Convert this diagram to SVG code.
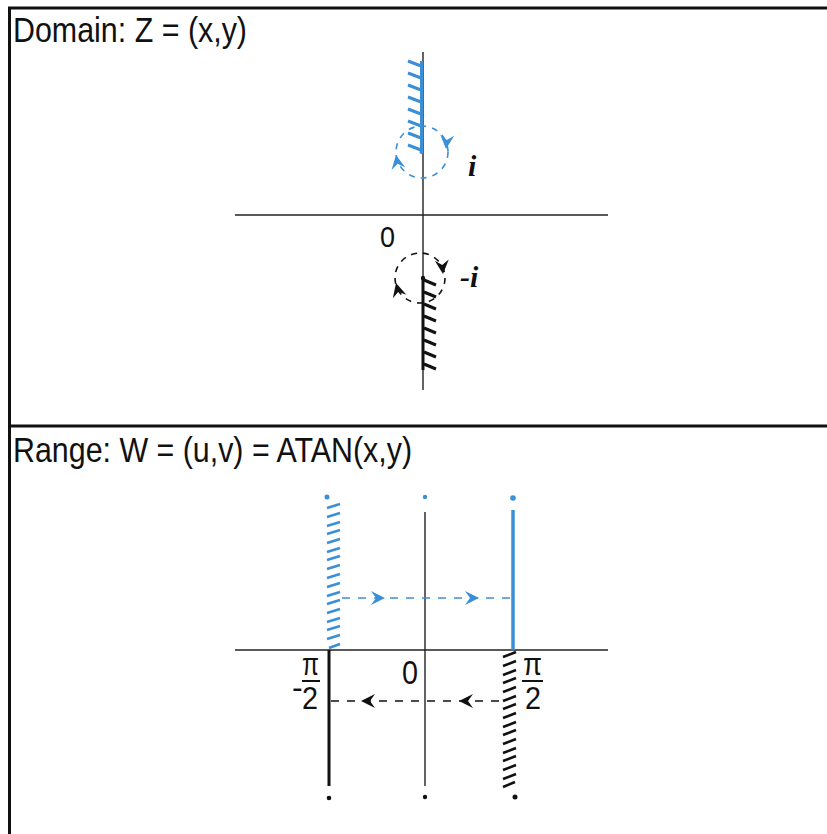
<svg xmlns="http://www.w3.org/2000/svg" width="827" height="834" viewBox="0 0 827 834">
<style>
.frame{stroke:#111;stroke-width:3;fill:none}
.axis{stroke:#222;stroke-width:1.4;fill:none}
.blue{stroke:#3b8fd6;fill:none}
.blk{stroke:#111;fill:none}
.t{font-family:"Liberation Sans",Arial,sans-serif;fill:#111}
.it{font-family:"Liberation Serif","Times New Roman",serif;font-style:italic;font-weight:bold;fill:#111}
</style>
<defs>
<path id="ah" d="M0,0 L-14,-7 L-9,0 L-14,7 Z"/>
</defs>
<rect width="827" height="834" fill="#fff"/>
<g id="frame">
<line class="frame" x1="8" y1="8" x2="827" y2="8"/>
<line class="frame" x1="9.5" y1="7" x2="9.5" y2="834"/>
<line class="frame" x1="8" y1="426" x2="827" y2="426"/>
</g>
<g id="titles">
<text class="t" x="13" y="42" font-size="35" textLength="234" lengthAdjust="spacingAndGlyphs">Domain: Z = (x,y)</text>
<text class="t" x="13" y="462" font-size="35" textLength="399" lengthAdjust="spacingAndGlyphs">Range: W = (u,v) = ATAN(x,y)</text>
</g>
<g id="domain">
<line class="axis" x1="423" y1="52" x2="423" y2="390"/>
<line class="axis" x1="235" y1="215" x2="608" y2="215"/>
<text class="t" x="380" y="247" font-size="30" textLength="15" lengthAdjust="spacingAndGlyphs">0</text>
<g id="cut-top">
<line class="blue" stroke-width="3" x1="421.5" y1="61" x2="421.5" y2="152"/>
<path class="blue" stroke-width="3" d="M408,61 L421,66 M408,73 L421,78 M408,85 L421,90 M408,97 L421,102 M408,109 L421,114 M408,121 L421,126 M408,133 L421,138 M408,145 L421,150"/>
<circle class="blue" stroke-width="1.6" stroke-dasharray="6 6" cx="422" cy="152" r="26"/>
<use href="#ah" fill="#3b8fd6" transform="translate(446,149) rotate(95)"/>
<use href="#ah" fill="#3b8fd6" transform="translate(396,155) rotate(-100)"/>
<circle cx="421.5" cy="152" r="2" fill="#3b8fd6"/>
</g>
<text class="it" x="468" y="176" font-size="30">i</text>
<g id="cut-bottom">
<line class="blk" stroke-width="3" x1="423" y1="278" x2="423" y2="370"/>
<path class="blk" stroke-width="3" d="M424,280 L436,285 M424,292 L436,297 M424,304 L436,309 M424,316 L436,321 M424,328 L436,333 M424,340 L436,345 M424,352 L436,357 M424,364 L436,369"/>
<circle class="blk" stroke-width="1.6" stroke-dasharray="6 6" cx="420" cy="278" r="25"/>
<use href="#ah" fill="#111" transform="translate(443,274) rotate(85)"/>
<use href="#ah" fill="#111" transform="translate(396,283) rotate(-105)"/>
<circle cx="423" cy="278" r="2.2" fill="#111"/>
</g>
<text class="it" x="460" y="287" font-size="30">-i</text>
</g>
<g id="range">
<line class="axis" x1="235" y1="650" x2="608" y2="650"/>
<line class="axis" x1="425" y1="512" x2="425" y2="786"/>
<circle cx="425" cy="497" r="2.2" fill="#3b8fd6"/>
<circle cx="425" cy="797" r="2.2" fill="#111"/>
<text class="t" x="402" y="684" font-size="33" textLength="16" lengthAdjust="spacingAndGlyphs">0</text>
<g id="left-line">
<circle cx="327" cy="497" r="2.5" fill="#3b8fd6"/>
<path class="blue" stroke-width="2.6" d="M327,508 L340,504 M327,517 L340,513 M327,526 L340,522 M327,534 L340,530 M327,543 L340,539 M327,552 L340,548 M327,560 L340,556 M327,569 L340,565 M327,578 L340,574 M327,587 L340,583 M327,596 L340,592 M327,604 L340,600 M327,613 L340,609 M327,622 L340,618 M327,630 L340,626 M327,639 L340,635 M329,648 L340,644"/>
<line class="blk" stroke-width="3" x1="329" y1="650" x2="329" y2="786"/>
<circle cx="329" cy="798" r="2.3" fill="#111"/>
</g>
<g id="right-line">
<circle cx="513" cy="498" r="2.8" fill="#3b8fd6"/>
<line class="blue" stroke-width="3.5" x1="513" y1="510" x2="513" y2="650"/>
<path class="blk" stroke-width="2.6" d="M503,657 L516,652 M503,666 L516,661 M503,675 L516,670 M503,683 L516,678 M503,692 L516,687 M503,701 L516,696 M503,709 L516,704 M503,718 L516,713 M503,727 L516,722 M503,735 L516,730 M503,744 L516,739 M503,753 L516,748 M503,761 L516,756 M503,770 L516,765 M503,779 L516,774 M503,787 L515,782"/>
<circle cx="515" cy="797" r="2.5" fill="#111"/>
</g>
<g id="connectors">
<line class="blue" stroke-width="1.5" stroke-dasharray="8 8" x1="342" y1="598" x2="512" y2="598"/>
<use href="#ah" fill="#3b8fd6" transform="translate(385,598)"/>
<use href="#ah" fill="#3b8fd6" transform="translate(479,598)"/>
<line class="blk" stroke-width="1.5" stroke-dasharray="8 8" x1="331" y1="701" x2="505" y2="701"/>
<use href="#ah" fill="#111" transform="translate(361,701) rotate(180)"/>
<use href="#ah" fill="#111" transform="translate(459,701) rotate(180)"/>
</g>
<g id="labels">
<text class="t" x="292" y="698" font-size="32">-</text>
<text class="t" x="302" y="675" font-size="32" textLength="17" lengthAdjust="spacingAndGlyphs">π</text>
<line class="blk" stroke-width="2" x1="302" y1="681" x2="320" y2="681"/>
<text class="t" x="302" y="709" font-size="32" textLength="16" lengthAdjust="spacingAndGlyphs">2</text>
<text class="t" x="523" y="675" font-size="32" textLength="19" lengthAdjust="spacingAndGlyphs">π</text>
<line class="blk" stroke-width="2" x1="522" y1="681" x2="543" y2="681"/>
<text class="t" x="525" y="709" font-size="32" textLength="16" lengthAdjust="spacingAndGlyphs">2</text>
</g>
</g>
</svg>
